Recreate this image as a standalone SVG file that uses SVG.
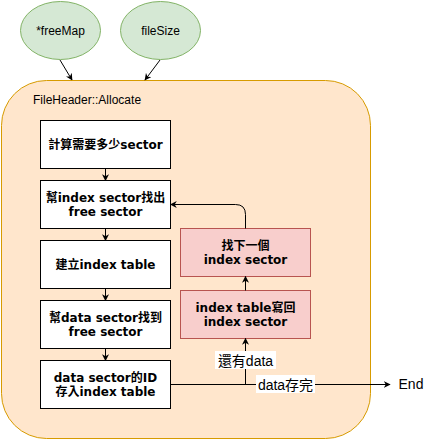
<svg xmlns="http://www.w3.org/2000/svg" width="431" height="441" viewBox="0 0 431 441">
<style>
.ell{fill:#d5e8d4;stroke:#82b366;stroke-width:1}
.box{fill:#ffffff;stroke:#000000;stroke-width:1}
.pink{fill:#f8cecc;stroke:#b85450;stroke-width:1}
.bt{font-family:"DejaVu Sans","Noto Sans CJK TC",sans-serif;font-size:12px;font-weight:bold;fill:#000;text-anchor:middle}
.lt{font-family:"Liberation Sans","Noto Sans CJK TC",sans-serif;font-size:12px;fill:#000}
.lab{font-family:"Liberation Sans","Noto Sans CJK TC",sans-serif;font-size:14px;fill:#000;text-anchor:middle}
.ln{fill:none;stroke:#000;stroke-width:1}
</style>
<defs>
<marker id="arr" viewBox="0 0 10 10" refX="9" refY="5" markerWidth="7" markerHeight="7" orient="auto" markerUnits="userSpaceOnUse">
<path d="M0,0 L10,5 L0,10 L3,5 Z" fill="#000"/>
</marker>
</defs>
<rect id="container" x="1.5" y="80.5" width="369" height="358" rx="45" ry="45" fill="#ffe6cc" stroke="#d79b00"/>
<text class="lt" x="33" y="104">FileHeader::Allocate</text>
<g id="freeMap"><ellipse class="ell" cx="60.5" cy="30.5" rx="40" ry="29"/><text class="lt" x="60.5" y="35" text-anchor="middle">*freeMap</text></g>
<g id="fileSize"><ellipse class="ell" cx="160.5" cy="30.5" rx="40" ry="29"/><text class="lt" x="160.5" y="35" text-anchor="middle">fileSize</text></g>
<g id="n1"><rect class="box" x="40.5" y="120.5" width="130" height="48"/><text class="bt" x="105.5" y="149">計算需要多少sector</text></g>
<g id="n2"><rect class="box" x="40.5" y="180.5" width="130" height="48"/><text class="bt" x="105.5" y="202">幫index sector找出</text><text class="bt" x="105.5" y="216">free sector</text></g>
<g id="n3"><rect class="box" x="40.5" y="240.5" width="130" height="48"/><text class="bt" x="105.5" y="269">建立index table</text></g>
<g id="n4"><rect class="box" x="40.5" y="300.5" width="130" height="48"/><text class="bt" x="105.5" y="322">幫data sector找到</text><text class="bt" x="105.5" y="336">free sector</text></g>
<g id="n5"><rect class="box" x="40.5" y="360.5" width="130" height="48"/><text class="bt" x="105.5" y="382">data sector的ID</text><text class="bt" x="105.5" y="396">存入index table</text></g>
<g id="p1"><rect class="pink" x="180.5" y="228.5" width="130" height="48"/><text class="bt" x="245.5" y="250">找下一個</text><text class="bt" x="245.5" y="264">index sector</text></g>
<g id="p2"><rect class="pink" x="180.5" y="290.5" width="130" height="48"/><text class="bt" x="245.5" y="312">index table寫回</text><text class="bt" x="245.5" y="326">index sector</text></g>
<g id="end"><text class="lab" x="411" y="389">End</text></g>
<g id="connectors">
<path class="ln" d="M60,60 L72,80" marker-end="url(#arr)"/>
<path class="ln" d="M160,60 L145,80" marker-end="url(#arr)"/>
<path class="ln" d="M105.5,168.5 L105.5,180.5" marker-end="url(#arr)"/>
<path class="ln" d="M105.5,228.5 L105.5,240.5" marker-end="url(#arr)"/>
<path class="ln" d="M105.5,288.5 L105.5,300.5" marker-end="url(#arr)"/>
<path class="ln" d="M105.5,348.5 L105.5,360.5" marker-end="url(#arr)"/>
<path class="ln" d="M170.5,384.5 L390,384.5" marker-end="url(#arr)"/>
<path class="ln" d="M245.5,384.5 L245.5,338.5" marker-end="url(#arr)"/>
<path class="ln" d="M245.5,290.5 L245.5,276.5" marker-end="url(#arr)"/>
<path class="ln" d="M245.5,228.5 L245.5,214.5 Q245.5,204.5 235.5,204.5 L170.5,204.5" marker-end="url(#arr)"/>
<rect x="256" y="375" width="59" height="18" fill="#fff"/>
<text class="lab" x="285.5" y="389.5">data存完</text>
<rect x="215" y="351" width="61" height="18" fill="#fff"/>
<text class="lab" x="245.5" y="365.5">還有data</text>
</g>
</svg>
